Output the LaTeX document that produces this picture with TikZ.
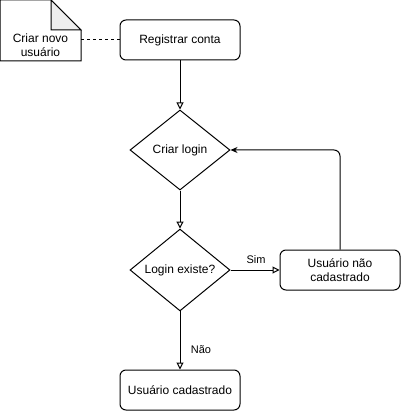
\documentclass[tikz,border=0pt]{standalone}
\usepackage{fontspec}
\setmainfont{Liberation Sans}
\usepackage{xcolor}
\definecolor{foldgray}{HTML}{EEEEEE}
\usetikzlibrary{arrows.meta,positioning,shapes.geometric}
\tikzset{
  >={Triangle[open,length=7pt,width=7pt]},
  proc/.style    ={draw,rounded corners=6pt,minimum width=120pt,
                   minimum height=40pt,align=center,inner sep=0pt},
  decision/.style={draw,diamond,minimum width=100pt,minimum height=80pt,
                   inner sep=0pt,align=center},
  notebox/.style ={minimum width=80pt,minimum height=60pt,inner sep=0pt},
  flow/.style    ={->,line width=1pt},
  back/.style    ={-{Stealth[length=7pt,width=6pt]},line width=1pt,rounded corners=6pt},
  lbl/.style     ={font=\fontsize{11}{13}\selectfont,inner sep=1pt},
}

\begin{document}
\begin{tikzpicture}[x=1pt,y=-1pt,line width=1pt,font=\fontsize{12}{14}\selectfont]
\useasboundingbox (0,0) rectangle (401,411);
% note
\node[notebox] (note) at (40.5,30.5) {};
\draw (note.north west) -- ([xshift=-30pt]note.north east)
  -- ([yshift=-30pt]note.north east) -- (note.south east)
  -- (note.south west) -- cycle;
\filldraw[fill=foldgray] ([xshift=-30pt]note.north east)
  -- ([xshift=-30pt,yshift=-30pt]note.north east)
  -- ([yshift=-30pt]note.north east) -- cycle;
\node[align=center,inner sep=0pt] (notetxt) at (40.5,45) {Criar novo\\usuário};
% steps
\node[proc] (reg) at (180,40) {Registrar conta};
\node[decision] (login) at (180,150) {Criar login};
\node[decision] (exist) at (180,270) {Login existe?};
\node[proc] (nocad) at (340,270) {Usuário não\\cadastrado};
\node[proc] (cad) at (180,390) {Usuário cadastrado};
% connectors
\draw[dashed] (note.east |- reg.west) -- (reg.west);
\draw[flow] (reg) -- (login);
\draw[flow] (login) -- (exist);
\draw[flow] (exist) -- (nocad);
\draw[flow] (exist) -- (cad);
\draw[back] (nocad.north) |- (login.east);
% labels
\node[lbl] (sim) at (256,260) {Sim};
\node[lbl] (naoL) at (201,350) {Não};
\end{tikzpicture}
\end{document}
